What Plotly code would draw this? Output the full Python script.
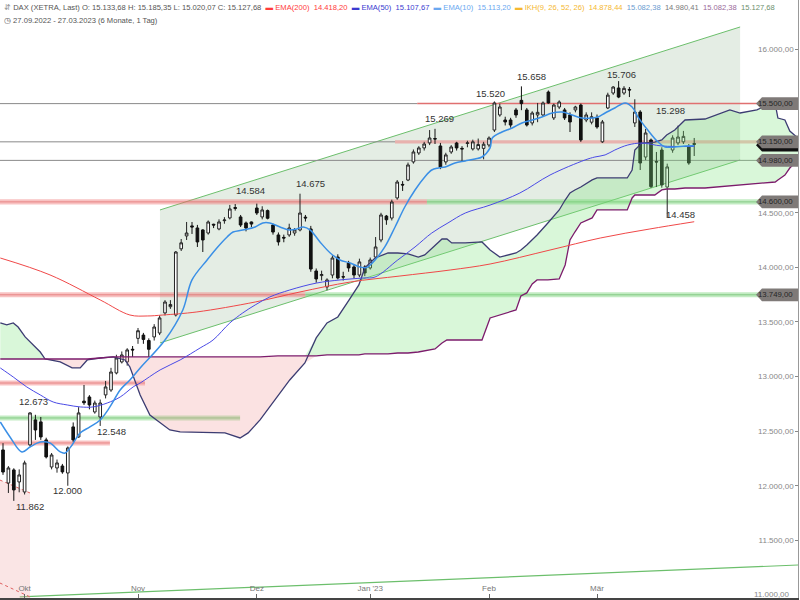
import plotly.graph_objects as go

FONT = "Liberation Sans, Arial, sans-serif"

# ---------------- data (trading-day index 0 = 27.09.2022) ----------------
opens = [12328, 12025, 12145, 12035, 11943, 12374, 12603, 12585, 12420, 12172,
         12163, 12181, 12117, 12539, 12447, 12775, 12813, 12676, 12630, 12832,
         12877, 13033, 13134, 13134, 13250, 13350, 13380, 13330, 13363, 13399,
         13583, 13640, 13564, 14170, 14288, 14380, 14361, 14343, 14315, 14395,
         14352, 14428, 14453, 14548, 14462, 14407, 14416, 14544, 14462, 14520,
         14388, 14297, 14275, 14297, 14315, 14343, 14460, 14352, 13967, 13925,
         13821, 13930, 14095, 13915, 14040, 14004, 13930, 14004, 13995, 14095,
         14251, 14470, 14452, 14636, 14760, 14800, 14966, 15048, 15094, 15140,
         15180, 15112, 14966, 15057, 15139, 15090, 15135, 15085, 15085, 15090,
         15121, 15258, 15396, 15350, 15350, 15442, 15530, 15442, 15323, 15396,
         15396, 15606, 15369, 15469, 15442, 15396, 15442, 15487, 15350, 15330,
         15369, 15150, 15460, 15597, 15643, 15597, 15630, 15323, 15423, 15011,
         15167, 14970, 15075, 14736, 15075, 15140, 15150, 15103, 15133.68]
highs = [12390, 12180, 12160, 12150, 12230, 12673, 12650, 12630, 12440, 12300,
         12240, 12200, 12360, 12580, 12720, 12923, 12830, 12780, 12790, 12960,
         13080, 13200, 13230, 13260, 13280, 13445, 13400, 13350, 13480, 13560,
         13700, 13700, 14150, 14260, 14416, 14416, 14389, 14350, 14430, 14400,
         14440, 14460, 14572, 14580, 14480, 14420, 14420, 14584, 14560, 14530,
         14400, 14320, 14300, 14400, 14360, 14675, 14480, 14380, 13990, 13970,
         13900, 14110, 14120, 13960, 14060, 14030, 14080, 14020, 14090, 14278,
         14500, 14480, 14620, 14800, 14790, 14960, 15080, 15110, 15150, 15258,
         15269, 15140, 15050, 15120, 15150, 15110, 15160, 15170, 15180, 15150,
         15200, 15520, 15500, 15380, 15370, 15460, 15658, 15460, 15430, 15506,
         15520, 15620, 15500, 15530, 15460, 15420, 15480, 15500, 15420, 15420,
         15400, 15350, 15600, 15660, 15706, 15660, 15652, 15540, 15440, 15268,
         15180, 15057, 15100, 14950, 15210, 15298, 15250, 15130, 15185.35]
lows = [12100, 11934, 11862, 11940, 11920, 12360, 12420, 12420, 12250, 12150,
        12120, 12110, 12000, 12400, 12440, 12740, 12700, 12660, 12548, 12800,
        12860, 13020, 13120, 13100, 13180, 13300, 13300, 13180, 13330, 13380,
        13560, 13620, 13550, 14150, 14251, 14306, 14187, 14141, 14300, 14360,
        14340, 14400, 14440, 14520, 14370, 14330, 14370, 14480, 14440, 14440,
        14300, 14200, 14230, 14280, 14290, 14330, 14420, 13960, 13860, 13880,
        13791, 13900, 13890, 13880, 13960, 13900, 13910, 13920, 13980, 14080,
        14230, 14390, 14430, 14620, 14700, 14790, 14950, 15030, 15070, 15120,
        15130, 14900, 14940, 15040, 15070, 14966, 15100, 15070, 15070, 14990,
        15100, 15240, 15380, 15300, 15280, 15370, 15440, 15290, 15300, 15330,
        15380, 15500, 15350, 15450, 15350, 15240, 15420, 15150, 15330, 15310,
        15270, 15140, 15450, 15580, 15550, 15580, 15560, 15286, 14892, 14983,
        14727, 14736, 14730, 14458, 15050, 15120, 15130, 14940, 15020.07]
closes = [12126, 12163, 11962, 12099, 12209, 12667, 12511, 12447, 12264, 12282,
          12209, 12127, 12346, 12420, 12667, 12760, 12740, 12758, 12758, 12905,
          13042, 13170, 13198, 13244, 13244, 13420, 13340, 13250, 13454, 13537,
          13683, 13660, 14141, 14225, 14315, 14370, 14233, 14251, 14416, 14388,
          14416, 14434, 14535, 14541, 14388, 14361, 14397, 14498, 14526, 14450,
          14324, 14233, 14269, 14361, 14343, 14498, 14453, 13985, 13894, 13935,
          13885, 14086, 13903, 13912, 13995, 13930, 14050, 13949, 14068, 14187,
          14480, 14436, 14599, 14782, 14755, 14938, 15057, 15094, 15130, 15185,
          15176, 14920, 15030, 15103, 15094, 15085, 15140, 15150, 15125, 15128,
          15185, 15506, 15469, 15332, 15304, 15396, 15500, 15304, 15414, 15420,
          15506, 15506, 15487, 15515, 15369, 15332, 15469, 15167, 15396, 15380,
          15286, 15332, 15578, 15652, 15560, 15640, 15625, 15423, 14956, 15231,
          14740, 14965, 14755, 14920, 15185, 15194, 15200, 14956, 15127.68]
day_idx = list(range(len(closes)))

month_tick_idx = [4, 25, 47, 68, 90, 110]
month_tick_txt = ["Okt", "Nov", "Dez", "Jan '23", "Feb", "Mär"]

price_ticks = [11000, 11500, 12000, 12500, 13000, 13500, 14000, 14500, 15000, 15500, 16000]
price_tick_txt = ["", "11.500,00", "12.000,00", "12.500,00", "13.000,00", "13.500,00",
                  "14.000,00", "14.500,00", "", "", "16.000,00"]
bottom_tick_price = 11000
bottom_tick_txt = "11.000,00"

ema10_idx = [-0.5, 1.3, 3.5, 5.0, 6.9, 8.7, 10.6, 11.5, 12.8, 14.3, 16.1, 18.0, 19.8, 21.7, 23.5,
             25.4, 30.0, 33.3, 35.0, 37.8, 39.6, 41.5, 42.6, 44.4, 46.7, 48.1, 49.4, 51.3, 53.1,
             54.4, 55.6, 56.9, 58.7, 60.6, 62.4, 64.3, 66.1, 67.4, 68.9, 70.7, 72.6, 74.4, 76.3,
             78.1, 79.4, 80.6, 81.9, 83.7, 85.6, 87.4, 88.7, 90.2, 90.6, 92.4, 94.3, 96.1, 98.0,
             99.8, 101.7, 103.5, 105.4, 107.2, 109.1, 110.2, 111.5, 113.3, 115.2, 116.5, 117.6,
             119.4, 121.3, 122.6, 124.4, 126.3, 128.0]
ema10_val = [12584, 12447, 12310, 12355, 12401, 12392, 12310, 12300, 12374, 12484, 12539, 12603,
             12722, 12877, 12969, 13079, 13335, 13610, 13885, 14068, 14178, 14279, 14324, 14342,
             14370, 14407, 14407, 14370, 14342, 14352, 14370, 14342, 14233, 14132, 14068, 14040,
             14004, 14000, 14068, 14187, 14370, 14553, 14709, 14828, 14892, 14910, 14920, 14956,
             14975, 14993, 15011, 15094, 15185, 15240, 15277, 15323, 15350, 15377, 15414, 15423,
             15396, 15368, 15368, 15377, 15414, 15460, 15506, 15469, 15377, 15258, 15148, 15103,
             15103, 15112, 15113.2]

ema50_idx = [-0.5, 1.9, 4.4, 6.9, 9.3, 11.9, 14.3, 16.7, 19.3, 21.7, 24.1, 25.4, 29.1, 32.8,
             36.5, 38.9, 42.0, 44.4, 46.7, 49.4, 53.1, 58.1, 62.4, 66.7, 68.9, 73.1, 76.3, 79.4,
             82.4, 85.6, 90.2, 95.7, 101.3, 107.8, 109.6, 111.5, 113.3, 115.7, 118.3, 122.0, 128.0]
ema50_val = [13079, 12996, 12905, 12832, 12767, 12740, 12722, 12722, 12758, 12813, 12905, 12941,
             13061, 13152, 13262, 13335, 13491, 13583, 13656, 13729, 13793, 13857, 13885, 13903,
             13912, 14068, 14187, 14315, 14407, 14498, 14571, 14681, 14846, 14984, 15011, 15030,
             15075, 15121, 15139, 15112, 15107.67]

ema200_idx = [-0.5, 8.7, 18.0, 23.5, 26.7, 29.6, 35.9, 46.7, 55.0, 64.3, 73.5, 82.8, 90.2,
              101.3, 110.6, 119.8, 128.0]
ema200_val = [14086, 13931, 13702, 13564, 13555, 13564, 13592, 13683, 13775, 13866, 13921,
              13976, 14031, 14159, 14269, 14352, 14418.2]

# Ichimoku cloud (Senkou Span A / B, shifted 26 days forward)
ikh_idx = [-0.5, 0.7, 1.9, 2.8, 4.1, 5.6, 6.9, 7.8, 10.6, 12.8, 14.3, 15.6, 18.0, 20.4, 22.6,
           23.5, 24.4, 25.4, 27.2, 30.9, 32.8, 41.1, 43.9, 45.4, 47.6, 50.9, 53.1, 55.9, 58.0,
           60.0, 62.0, 64.1, 65.9, 67.0, 68.9, 71.3, 73.1, 75.0, 76.9, 78.1, 80.0, 81.3, 82.2,
           83.1, 85.6, 88.7, 90.2, 92.0, 95.0, 95.9, 97.0, 98.0, 98.9, 100.9, 103.0, 104.1,
           105.0, 105.9, 107.0, 109.1, 110.0, 115.6, 116.5, 117.0, 118.3, 120.7, 122.0, 122.9,
           124.4, 126.3, 130.0, 134.6, 136.5, 139.6, 142.0, 143.0, 143.5, 144.8, 145.7, 147.2]
senkou_a = [13491, 13473, 13491, 13454, 13363, 13290, 13225, 13161, 13134, 13079, 13079, 13152,
            13170, 13180, 13152, 13088, 12969, 12832, 12648, 12511, 12493, 12484, 12438, 12484,
            12603, 12822, 12969, 13125, 13354, 13491, 13546, 13702, 13839, 13995, 14086, 14132,
            14132, 14123, 14095, 14114, 14205, 14260, 14260, 14224, 14224, 14233, 14159, 14095,
            14132, 14159, 14205, 14251, 14297, 14407, 14526, 14617, 14682, 14709, 14736, 14801,
            14819, 14819, 14892, 15075, 15139, 15148, 15167, 15213, 15258, 15350, 15359, 15442,
            15414, 15442, 15497, 15497, 15368, 15350, 15249, 15185]
senkou_b = [13161, 13161, 13161, 13161, 13161, 13161, 13161, 13161, 13161, 13161, 13161, 13161,
            13170, 13180, 13180, 13180, 13180, 13180, 13180, 13180, 13180, 13180, 13180, 13180,
            13180, 13189, 13189, 13189, 13189, 13198, 13198, 13198, 13198, 13207, 13207, 13207,
            13216, 13216, 13225, 13234, 13253, 13308, 13335, 13335, 13335, 13335, 13537, 13564,
            13610, 13738, 13766, 13848, 13885, 13885, 13894, 14022, 14251, 14324, 14407, 14453,
            14526, 14526, 14636, 14663, 14663, 14663, 14709, 14718, 14718, 14727, 14727, 14746,
            14755, 14773, 14782, 14782, 14801, 14846, 14910, 14984]

swing_idx = [5.0, 11.9, 5.6, 20.0, 45.9, 57.0, 80.8, 90.2, 97.8, 114.6, 123.7, 125.5]
swing_price = [11806, 11961, 12768, 12493, 14700, 14764, 15368, 15597, 15752, 15771, 15433, 14489]
swing_txt = ["11.862", "12.000", "12.673", "12.548", "14.584", "14.675", "15.269", "15.520",
             "15.658", "15.706", "15.298", "14.458"]

tag_levels = [15500, 14980, 14600, 13749]
tag_txt = ["15.500,00", "14.980,00", "14.600,00", "13.749,00"]
last_price = 15127.68
hot_level = 15150
hot_txt = "15.150,00"

# ---------------- figure ----------------
fig = go.Figure()
XMIN, XMAX = -0.556, 147.22
YMIN, YMAX = 10972, 16449

shapes = []


def hline(y, x0, x1, color, width=1, dash="solid"):
    shapes.append(dict(type="line", xref="x", yref="y", x0=x0, x1=x1, y0=y, y1=y,
                       line=dict(color=color, width=width, dash=dash), layer="below"))


def band(y, x0, x1, fill, core):
    shapes.append(dict(type="rect", xref="x", yref="y", x0=x0, x1=x1, y0=y - 23, y1=y + 23,
                       fillcolor=fill, line=dict(width=0), layer="below"))
    hline(y, x0, x1, core, 1)


# trend channel
shapes.append(dict(type="path", xref="x", yref="y",
                   path="M 29.07,14526 L 136.5,16202 L 136.5,14984 L 29.07,13308 Z",
                   fillcolor="rgba(170,200,170,0.32)", line=dict(width=0), layer="below"))
shapes.append(dict(type="line", xref="x", yref="y", x0=29.07, y0=14526, x1=136.5, y1=16202,
                   line=dict(color="#6cbf6c", width=1), layer="below"))
shapes.append(dict(type="line", xref="x", yref="y", x0=29.07, y0=13308, x1=136.5, y1=14984,
                   line=dict(color="#6cbf6c", width=1), layer="below"))
# long bottom trend line
shapes.append(dict(type="line", xref="x", yref="y", x0=3.1, y0=10982, x1=147.6, y1=11275,
                   line=dict(color="#6cbf6c", width=1.2), layer="below"))
# bottom-left zone
shapes.append(dict(type="path", xref="x", yref="y",
                   path="M -0.6,12053 L 5,11934 L 5,10972 L -0.6,10972 Z",
                   fillcolor="rgba(240,170,170,0.3)", line=dict(width=0), layer="below"))
shapes.append(dict(type="line", xref="x", yref="y", x0=-0.6, y0=12053, x1=5, y1=11934,
                   line=dict(color="#e06060", width=1, dash="dot"), layer="below"))
shapes.append(dict(type="line", xref="x", yref="y", x0=-0.6, y0=11110, x1=5, y1=10982,
                   line=dict(color="#e06060", width=1, dash="dot"), layer="below"))

RED_F, RED_C = "rgba(240,120,120,0.45)", "rgba(220,90,90,0.6)"
GRN_F, GRN_C = "rgba(120,210,120,0.45)", "rgba(90,180,90,0.6)"

hline(15500, -1, 76.7, "#8a8a8a")
hline(15500, 76.7, 141, "#e07070", 1.5)
hline(15150, -1, 72.6, "#8a8a8a")
shapes.append(dict(type="rect", xref="x", yref="y", x0=72.6, x1=141, y0=15135, y1=15165,
                   fillcolor="rgba(235,120,120,0.5)", line=dict(width=0), layer="below"))
hline(14980, -1, 141, "#8a8a8a")
band(14600, -1, 78.5, RED_F, RED_C)
band(14600, 78.5, 141, GRN_F, GRN_C)
band(13749, -1, 56, RED_F, RED_C)
band(13749, 56, 141, GRN_F, GRN_C)
band(12941, -1, 26.3, RED_F, RED_C)
band(12621, -1, 43.9, GRN_F, GRN_C)
band(12392, -1, 19.8, RED_F, RED_C)

# Ichimoku cloud fills
cloud_hi = [max(a, b) for a, b in zip(senkou_a, senkou_b)]
cloud_lo = [min(a, b) for a, b in zip(senkou_a, senkou_b)]
fig.add_trace(go.Scatter(x=ikh_idx, y=senkou_b, mode="lines", line=dict(width=0),
                         hoverinfo="skip"))
fig.add_trace(go.Scatter(x=ikh_idx, y=cloud_hi, mode="lines", line=dict(width=0),
                         fill="tonexty", fillcolor="rgba(130,230,130,0.3)", hoverinfo="skip"))
fig.add_trace(go.Scatter(x=ikh_idx, y=senkou_b, mode="lines", line=dict(width=0),
                         hoverinfo="skip"))
fig.add_trace(go.Scatter(x=ikh_idx, y=cloud_lo, mode="lines", line=dict(width=0),
                         fill="tonexty", fillcolor="rgba(240,150,150,0.28)", hoverinfo="skip"))
fig.add_trace(go.Scatter(x=ikh_idx, y=senkou_a, mode="lines",
                         line=dict(color="#3c3c72", width=1.3), hoverinfo="skip"))
fig.add_trace(go.Scatter(x=ikh_idx, y=senkou_b, mode="lines",
                         line=dict(color="#7c1c6c", width=1.3), hoverinfo="skip"))

# EMAs
fig.add_trace(go.Scatter(x=ema200_idx, y=ema200_val, mode="lines", line_shape="spline",
                         line=dict(color="#f04848", width=1)))
fig.add_trace(go.Scatter(x=ema50_idx, y=ema50_val, mode="lines", line_shape="spline",
                         line=dict(color="#4a4ae6", width=1)))
fig.add_trace(go.Scatter(x=ema10_idx, y=ema10_val, mode="lines", line_shape="spline",
                         line=dict(color="#3a8fe6", width=1.5)))

# candles
fig.add_trace(go.Candlestick(
    x=day_idx, open=opens, high=highs, low=lows, close=closes,
    increasing=dict(line=dict(color="#222222", width=1), fillcolor="#ffffff"),
    decreasing=dict(line=dict(color="#111111", width=1), fillcolor="#111111"),
    whiskerwidth=0, hoverinfo="skip"))

annotations = []
for xi, yi, t in zip(swing_idx, swing_price, swing_txt):
    annotations.append(dict(x=xi, y=yi, xref="x", yref="y", text=t, showarrow=False,
                            font=dict(family=FONT, size=9.5, color="#333333")))

# bottom price label (partly cut at the lower edge, as in the original)
annotations.append(dict(x=0.993, y=bottom_tick_price, xref="paper", yref="y",
                        text=bottom_tick_txt, showarrow=False, xanchor="right",
                        yanchor="middle", font=dict(family=FONT, size=8, color="#888")))

# right-side price tags
PX0, PX1 = 756 / 798, 762 / 798


def tag(level, txt, bg, fg):
    shapes.append(dict(type="path", xref="paper", yref="y",
                       path=f"M {PX0},{level} L {PX1},{level + 58} L 1,{level + 58} "
                            f"L 1,{level - 58} L {PX1},{level - 58} Z",
                       fillcolor=bg, line=dict(width=0), layer="above"))
    if txt:
        annotations.append(dict(x=0.996, y=level, xref="paper", yref="y", text=txt,
                                showarrow=False, xanchor="right", yanchor="middle",
                                font=dict(family=FONT, size=7.8, color=fg)))


tag(last_price - 8, "", "#111111", "#ffffff")
tag(hot_level, hot_txt, "#7f7a78", "#262626")
for lv, tx in zip(tag_levels, tag_txt):
    tag(lv, tx, "#7f7a78", "#262626")

# header legend
sp = "&nbsp;&nbsp;"
line1 = ("<span style='color:#999'>⇵</span> "
         "<span style='color:#555'>DAX (XETRA, Last) O: 15.133,68 H: 15.185,35 "
         "L: 15.020,07 C: 15.127,68</span>" + sp +
         "<span style='color:#ff3b3b'>▬ EMA(200)&nbsp; 14.418,20</span>" + sp +
         "<span style='color:#3a3ad0'>▬ EMA(50)&nbsp; 15.107,67</span>" + sp +
         "<span style='color:#6aa8f0'>▬ EMA(10)&nbsp; 15.113,20</span>" + sp +
         "<span style='color:#f5b830'>▬ IKH(9, 26, 52, 26)&nbsp; 14.878,44</span>" + sp +
         "<span style='color:#6b9bd0'>15.082,38</span>" + sp +
         "<span style='color:#7a7a7a'>14.980,41</span>" + sp +
         "<span style='color:#9a6a9a'>15.082,38</span>" + sp +
         "<span style='color:#6d8f6d'>15.127,68</span>")
line2 = "<span style='color:#555'>◷ 27.09.2022 - 27.03.2023 (6 Monate, 1 Tag)</span>"
annotations.append(dict(x=2 / 798, y=1 - 8 / 598, xref="paper", yref="paper", text=line1,
                        showarrow=False, xanchor="left", yanchor="middle",
                        font=dict(family=FONT, size=7.6, color="#555")))
annotations.append(dict(x=2 / 798, y=1 - 21 / 598, xref="paper", yref="paper", text=line2,
                        showarrow=False, xanchor="left", yanchor="middle",
                        font=dict(family=FONT, size=7.6, color="#555")))

fig.update_layout(
    width=800, height=600, margin=dict(l=0, r=2, t=0, b=2),
    paper_bgcolor="white", plot_bgcolor="white", showlegend=False,
    shapes=shapes, annotations=annotations,
    xaxis=dict(range=[XMIN, XMAX], showgrid=False, zeroline=False,
               tickvals=month_tick_idx, ticktext=month_tick_txt,
               ticklabelposition="inside", ticks="inside", ticklen=4, tickcolor="#666",
               tickfont=dict(family=FONT, size=8, color="#777"),
               showline=True, linecolor="#444", linewidth=2,
               rangeslider=dict(visible=False), fixedrange=True),
    yaxis=dict(range=[YMIN, YMAX], side="right", showgrid=False, zeroline=False,
               tickvals=price_ticks, ticktext=price_tick_txt,
               ticklabelposition="inside", ticks="inside", ticklen=3, tickcolor="#888",
               tickfont=dict(family=FONT, size=8, color="#888"),
               showline=True, linecolor="#999", linewidth=1, fixedrange=True),
)

fig.write_html("out.html", config={"displayModeBar": False},
               post_script="document.body.style.margin='0px';")
